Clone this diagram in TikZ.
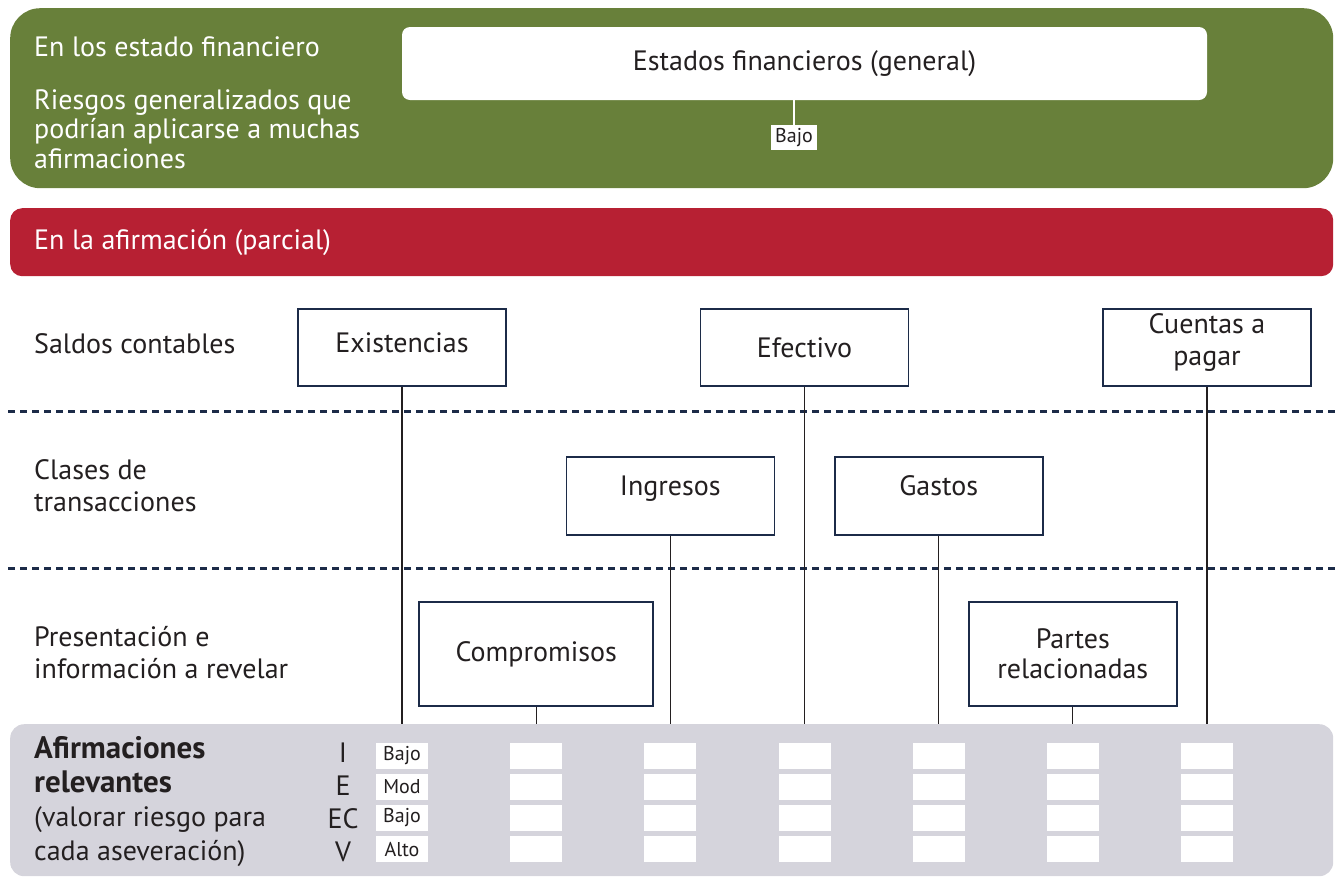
\documentclass[tikz,border=0pt]{standalone}
\usepackage{fontspec}
\setmainfont{PT Sans}
\definecolor{pgreen}{HTML}{68803A}
\definecolor{pred}{HTML}{B72033}
\definecolor{pgray}{HTML}{D5D4DC}
\definecolor{navy}{HTML}{1C2B48}
\definecolor{txt}{HTML}{231F20}
\begin{document}
\begin{tikzpicture}[x=1pt,y=-1pt,
  every node/.style={text=txt, font=\fontsize{28}{32}\selectfont, inner sep=0pt},
  box/.style={draw=navy, line width=1.6pt, fill=white, minimum width=208pt, minimum height=77pt, align=center},
  lbl/.style={anchor=west, align=left},
  wlbl/.style={anchor=west, align=left, text=white},
  cell/.style={fill=white, minimum width=52pt, minimum height=26pt, font=\fontsize{20}{22}\selectfont},
  conn/.style={draw=txt, line width=1.3pt},
  sepline/.style={draw=navy, line width=3pt, dash pattern=on 7pt off 5pt}]
\useasboundingbox (0,0) rectangle (1335,876);

% green panel
\node[fill=pgreen, rounded corners=30pt, minimum width=1323pt, minimum height=180pt, anchor=north west] (green) at (10,8) {};
\node[wlbl] (gt1) at (34,47) {En los estado financiero};
\node[wlbl, font=\fontsize{28}{29.5}\selectfont] (gt2) at (34,129) {Riesgos generalizados que\\podrían aplicarse a muchas\\afirmaciones};
\node[fill=white, rounded corners=8pt, minimum width=805pt, minimum height=73pt] (gen) at (804.5,63.5) {Estados financieros (general)};
\node[fill=white, minimum width=46pt, minimum height=25pt, font=\fontsize{20}{22}\selectfont] (bajo) at (794,137.5) {Bajo};
\draw[white, line width=1.2pt] (bajo.north |- gen.south) -- (bajo.north);

% red panel
\node[fill=pred, rounded corners=12pt, minimum width=1323pt, minimum height=68pt, anchor=north west] (red) at (10,208) {};
\node[wlbl] (rt) at (34,242) {En la afirmación (parcial)};

% row labels
\node[lbl] (r1) at (34,344) {Saldos contables};
\node[lbl] (r2) at (34,486) {Clases de\\transacciones};
\node[lbl] (r3) at (34,653) {Presentación e\\información a revelar};

% separators
\coordinate (d1a) at (8,411); \coordinate (d1b) at (1335,411);
\coordinate (d2a) at (8,568); \coordinate (d2b) at (1335,568);
\draw[sepline] (d1a) -- (d1b);
\draw[sepline] (d2a) -- (d2b);

% table background
\node[fill=pgray, rounded corners=14pt, minimum width=1323pt, minimum height=152pt, anchor=north west] (tab) at (10,724) {};

% boxes
\node[box, text depth=9pt] (exist) at (402,347.5) {Existencias};
\node[box] (efec) at (804.5,347.5) {Efectivo};
\node[box, text depth=16pt] (cuen) at (1207,347.5) {Cuentas a\\pagar};
\node[box, minimum height=78pt, text depth=20pt] (ingr) at (670.3,496) {Ingresos};
\node[box, minimum height=78pt, text depth=20pt] (gast) at (938.7,496) {Gastos};
\node[box, minimum width=234pt, minimum height=104pt] (comp) at (536.2,654) {Compromisos};
\node[box, minimum height=104pt, font=\fontsize{28}{30}\selectfont] (part) at (1072.8,654) {Partes\\relacionadas};

% connectors
\foreach \n in {exist,efec,cuen,ingr,gast,comp,part}
  \draw[conn] (\n.south) -- (\n.south |- tab.north);

% table text
\node[anchor=west, align=left, font=\fontsize{28}{34}\selectfont] (af) at (34,801.5) {{\fontsize{31}{34}\selectfont\bfseries Afirmaciones}\\{\fontsize{31}{34}\selectfont\bfseries relevantes}\\(valorar riesgo para\\cada aseveración)};
\node (lI) at (343,753) {I};
\node (lE) at (343,786) {E};
\node (lEC) at (343,819) {EC};
\node (lV) at (343,852) {V};

% cells
\foreach \k in {0,...,6}
  \foreach \r/\yy in {0/756,1/787,2/818,3/849}
    \node[cell] (c-\k-\r) at ({402+134.17*\k},\yy) {};
\node[cell] at (c-0-0) {Bajo};
\node[cell] at (c-0-1) {Mod};
\node[cell] at (c-0-2) {Bajo};
\node[cell] at (c-0-3) {Alto};
\end{tikzpicture}
\end{document}
